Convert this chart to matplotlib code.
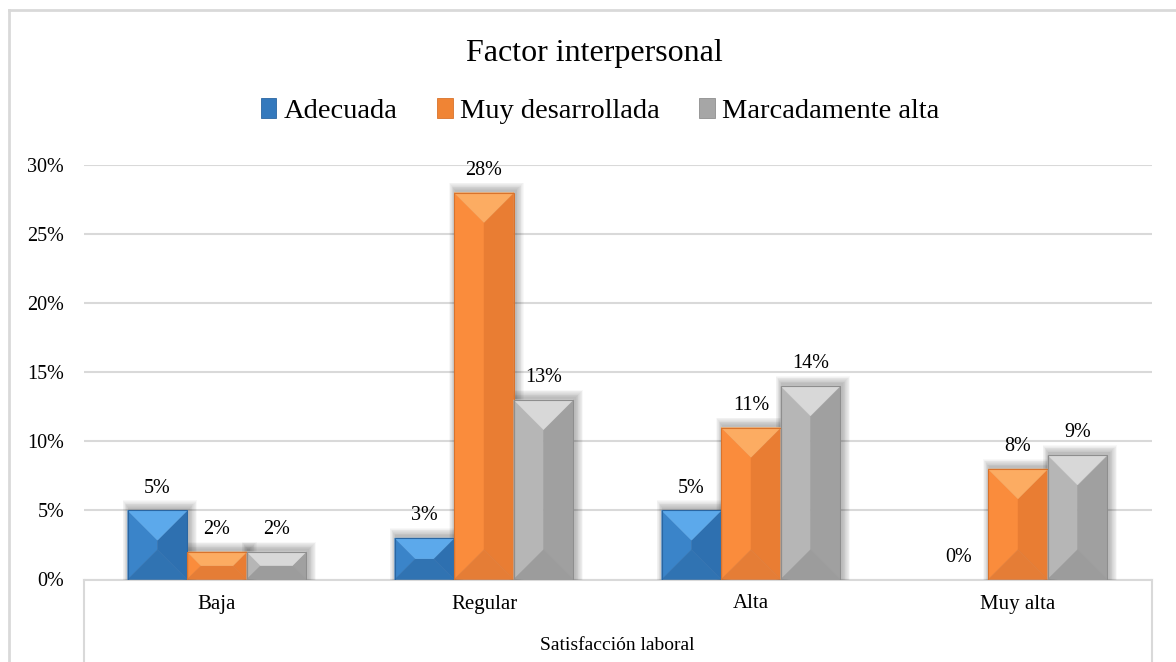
import matplotlib
matplotlib.use("Agg")
import matplotlib.pyplot as plt
from matplotlib.patches import Polygon, Rectangle
from matplotlib.lines import Line2D
from matplotlib.ticker import FuncFormatter
import numpy as np

# ---- data ----
categories = ["Baja", "Regular", "Alta", "Muy alta"]
series_names = ["Adecuada", "Muy desarrollada", "Marcadamente alta"]
adecuada = [5, 3, 5, 0]
muy_desarrollada = [2, 28, 11, 8]
marcadamente_alta = [2, 13, 14, 9]
title = "Factor interpersonal"
x_title = "Satisfacción laboral"
y_ticks = [0, 5, 10, 15, 20, 25, 30]

series_values = [adecuada, muy_desarrollada, marcadamente_alta]

# facet colours: top, left, right, bottom, edge
palettes = [
    dict(top="#5CA9EB", left="#3A84C9", right="#2E70B0", bottom="#3073B2", edge="#2A66A2", legend="#3479BD"),
    dict(top="#FCAC62", left="#FA8C3C", right="#E97D33", bottom="#E57D36", edge="#D9732C", legend="#F08434"),
    dict(top="#D8D8D8", left="#B6B6B6", right="#A0A0A0", bottom="#9C9C9C", edge="#8E8E8E", legend="#A6A6A6"),
]

plt.rcParams["font.family"] = ["Liberation Serif", "DejaVu Serif"]

W, H = 1176, 662
fig = plt.figure(figsize=(W / 100, H / 100), dpi=100)
fig.patch.set_facecolor("white")

x_left, x_right = 83.5, 1151.5
y_zero, y_top = 579.5, 165.0
ax = fig.add_axes([x_left / W, 1 - y_zero / H, (x_right - x_left) / W, (y_zero - y_top) / H])
ax.set_xlim(-0.5, len(categories) - 0.5)
ax.set_ylim(0, 30)

grid_c = "#D9D9D9"
ax.set_yticks(y_ticks)
ax.yaxis.set_major_formatter(FuncFormatter(lambda v, p: f"{v:.0f}%"))
ax.tick_params(axis="y", length=0, pad=14, labelsize=14.5, labelcolor="#000000")
ax.set_xticks([])
for s in ["top", "right", "left"]:
    ax.spines[s].set_visible(False)
ax.spines["bottom"].set_color(grid_c)
ax.spines["bottom"].set_linewidth(1.5)
ax.spines["bottom"].set_zorder(1)
ax.yaxis.grid(True, color=grid_c, linewidth=1.5)
ax.set_axisbelow(True)

bw = 59.5 / 267.0
to_px = ax.transData
to_data = ax.transData.inverted()


def bevel_bar(xc, val, pal):
    x0, x1 = xc - bw / 2, xc + bw / 2
    (px0, py0), (px1, py1) = to_px.transform([(x0, 0), (x1, val)])
    w, h = px1 - px0, py1 - py0
    if h <= 0:
        return
    # soft shadow
    for k in range(10, 0, -1):
        sx0, sy0 = px0 - 0.6 * k + 1, py0
        sx1, sy1 = px1 + 0.8 * k + 2, py1 + 0.8 * k + 2
        (dx0, dy0), (dx1, dy1) = to_data.transform([(sx0, sy0), (sx1, sy1)])
        ax.add_patch(Rectangle((dx0, dy0), dx1 - dx0, dy1 - dy0, facecolor="black",
                               alpha=0.028, edgecolor="none", zorder=2))
    d = min(w / 2, h / 2)
    ix0, ix1, iy0, iy1 = px0 + d, px1 - d, py0 + d, py1 - d
    facets = [
        ([(px0, py0), (px0, py1), (ix0, iy1), (ix0, iy0)], pal["left"]),
        ([(px1, py0), (px1, py1), (ix1, iy1), (ix1, iy0)], pal["right"]),
        ([(px0, py0), (px1, py0), (ix1, iy0), (ix0, iy0)], pal["bottom"]),
        ([(px0, py1), (px1, py1), (ix1, iy1), (ix0, iy1)], pal["top"]),
    ]
    if ix1 > ix0 and iy1 > iy0:
        facets.insert(0, ([(ix0, iy0), (ix1, iy0), (ix1, iy1), (ix0, iy1)], pal["left"]))
    for pts, col in facets:
        ax.add_patch(Polygon(to_data.transform(pts), closed=True, facecolor=col,
                             edgecolor=col, linewidth=0.3, zorder=3))
    ax.add_patch(Rectangle((x0, 0), x1 - x0, val, facecolor="none",
                           edgecolor=pal["edge"], linewidth=0.8, zorder=4))


xs = np.arange(len(categories))
for j, (vals, pal) in enumerate(zip(series_values, palettes)):
    for i, v in enumerate(vals):
        xc = xs[i] + (j - 1) * bw
        bevel_bar(xc, v, pal)
        ax.annotate(f"{v}%", xy=(xc, v), xytext=(0, 16), textcoords="offset points",
                    ha="center", va="center", fontsize=14.5, color="#000000", zorder=5)

# category labels and axis title
xa = ax.get_xaxis_transform()
for i, c in enumerate(categories):
    ax.text(xs[i], -(604 - y_zero) / (y_zero - y_top), c, transform=xa,
            ha="center", va="center", fontsize=15, color="#000000")
ax.text(0.5, -(645 - y_zero) / (y_zero - y_top), x_title, transform=ax.transAxes,
        ha="center", va="center", fontsize=14, color="#000000")

# category box verticals
ybot = -(H - y_zero) / (y_zero - y_top)
for xv in (0, 1):
    ax.add_line(Line2D([xv, xv], [0, ybot], transform=ax.transAxes, color=grid_c,
                       linewidth=1.5, clip_on=False))

# chart border (top and left)
fig.add_artist(Line2D([9 / W, 9 / W], [0, 1 - 10 / H], transform=fig.transFigure,
                      color=grid_c, linewidth=2))
fig.add_artist(Line2D([9 / W, 1], [1 - 10 / H, 1 - 10 / H], transform=fig.transFigure,
                      color=grid_c, linewidth=2))

# title
fig.text(594 / W, 1 - 53 / H, title, ha="center", va="center", fontsize=23, color="#000000")

# legend
handles = [Rectangle((0, 0), 1, 1, facecolor=p["legend"], edgecolor=p["edge"], linewidth=0.6)
           for p in palettes]
fig.legend(handles, series_names, loc="center", bbox_to_anchor=(600 / W, 1 - 111 / H),
           ncol=3, frameon=False, fontsize=20.5, handlelength=0.55, handleheight=0.7,
           handletextpad=0.25, columnspacing=1.4, borderpad=0)

fig.savefig("out.png", dpi=100, facecolor="white")
